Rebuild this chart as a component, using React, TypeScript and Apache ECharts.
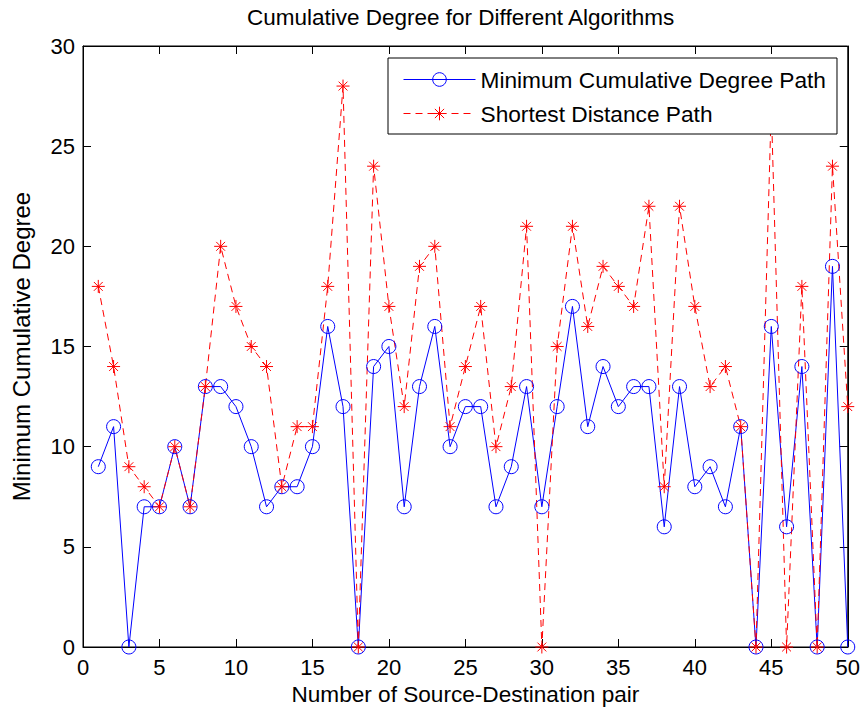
import React, { useEffect, useRef } from "react";
import * as echarts from "echarts";

const pairs: number[] = Array.from({ length: 50 }, (_, i) => i + 1);
const minCumDegree: number[] = [
  9, 11, 0, 7, 7, 10, 7, 13, 13, 12,
  10, 7, 8, 8, 10, 16, 12, 0, 14, 15,
  7, 13, 16, 10, 12, 12, 7, 9, 13, 7,
  12, 17, 11, 14, 12, 13, 13, 6, 13, 8,
  9, 7, 11, 0, 16, 6, 14, 0, 19, 0,
];
const shortestDist: number[] = [
  18, 14, 9, 8, 7, 10, 7, 13, 20, 17,
  15, 14, 8, 11, 11, 18, 28, 0, 24, 17,
  12, 19, 20, 11, 14, 17, 10, 13, 21, 0,
  15, 21, 16, 19, 18, 17, 22, 8, 22, 17,
  13, 14, 11, 0, 27, 0, 18, 0, 24, 12,
];
const seriesNames = ["Minimum Cumulative Degree Path", "Shortest Distance Path"];

const FONT = "'Liberation Sans', Arial, Helvetica, sans-serif";
const STAR = "path://M0 5 L10 5 M5 0 L5 10 M1.6 1.6 L8.4 8.4 M8.4 1.6 L1.6 8.4";

export default function App() {
  const ref = useRef<HTMLDivElement>(null);
  useEffect(() => {
    if (!ref.current) return;
    const chart = echarts.init(ref.current, undefined, { renderer: "svg" });
    const axisCommon = {
      min: 0,
      interval: 5,
      axisLine: { show: true, onZero: false, lineStyle: { color: "#000", width: 1 } },
      axisTick: { show: true, inside: true, length: 8, lineStyle: { color: "#000", width: 1 } },
      splitLine: { show: false },
    };
    chart.setOption({
      animation: false,
      backgroundColor: "#fff",
      textStyle: { fontFamily: FONT },
      title: {
        text: "Cumulative Degree for Different Algorithms",
        left: 247,
        top: 6,
        padding: 0,
        textStyle: { fontFamily: FONT, fontSize: 22.5, fontWeight: "normal", color: "#000" },
      },
      grid: { left: 83, right: 15, top: 46, bottom: 66, show: true, borderColor: "#000", borderWidth: 1 },
      legend: {
        orient: "vertical",
        left: 388,
        top: 58,
        backgroundColor: "#fff",
        borderColor: "#000",
        borderWidth: 1,
        borderRadius: 0,
        padding: [10, 11, 9, 15],
        itemWidth: 72,
        itemHeight: 17,
        itemGap: 11,
        textStyle: { fontFamily: FONT, fontSize: 22.7, color: "#000", lineHeight: 22 },
        data: [
          {
            name: seriesNames[0],
            itemStyle: { color: "none", borderColor: "#0000ff", borderWidth: 1 },
            lineStyle: { color: "#0000ff", width: 1, type: "solid" },
          },
          {
            name: seriesNames[1],
            itemStyle: { color: "none", borderColor: "#ff0000", borderWidth: 1 },
            lineStyle: { color: "#ff0000", width: 1, type: [7, 5] },
          },
        ],
      },
      xAxis: [
        {
          ...axisCommon,
          type: "value",
          max: 50,
          position: "bottom",
          name: "Number of Source-Destination pair",
          nameLocation: "middle",
          nameGap: 34,
          nameTextStyle: { fontFamily: FONT, fontSize: 22.6, color: "#000" },
          axisLabel: { fontFamily: FONT, fontSize: 22, color: "#000", margin: 9 },
        },
        {
          ...axisCommon,
          type: "value",
          max: 50,
          position: "top",
          axisLabel: { show: false },
        },
      ],
      yAxis: [
        {
          ...axisCommon,
          type: "value",
          max: 30,
          position: "left",
          name: "Minimum Cumulative Degree",
          nameLocation: "middle",
          nameGap: 50,
          nameTextStyle: { fontFamily: FONT, fontSize: 24, color: "#000" },
          axisLabel: { fontFamily: FONT, fontSize: 22, color: "#000", margin: 8 },
        },
        {
          ...axisCommon,
          type: "value",
          max: 30,
          position: "right",
          axisLabel: { show: false },
        },
      ],
      series: [
        {
          name: seriesNames[0],
          type: "line",
          data: pairs.map((x, i) => [x, minCumDegree[i]]),
          symbol: "circle",
          symbolSize: 14,
          showAllSymbol: true,
          lineStyle: { color: "#0000ff", width: 1 },
          itemStyle: { color: "none", borderColor: "#0000ff", borderWidth: 1 },
          emphasis: { disabled: true },
          clip: false,
          z: 3,
        },
        {
          name: seriesNames[1],
          type: "line",
          data: pairs.map((x, i) => [x, shortestDist[i]]),
          symbol: STAR,
          symbolSize: 13,
          showAllSymbol: true,
          lineStyle: { color: "#ff0000", width: 1, type: [7, 5] },
          itemStyle: { color: "none", borderColor: "#ff0000", borderWidth: 1 },
          emphasis: { disabled: true },
          clip: false,
          z: 3,
        },
      ],
    });
    return () => chart.dispose();
  }, []);
  return (
    <div
      ref={ref}
      style={{ position: "fixed", left: 0, top: 0, width: 863, height: 713, background: "#fff" }}
    />
  );
}
